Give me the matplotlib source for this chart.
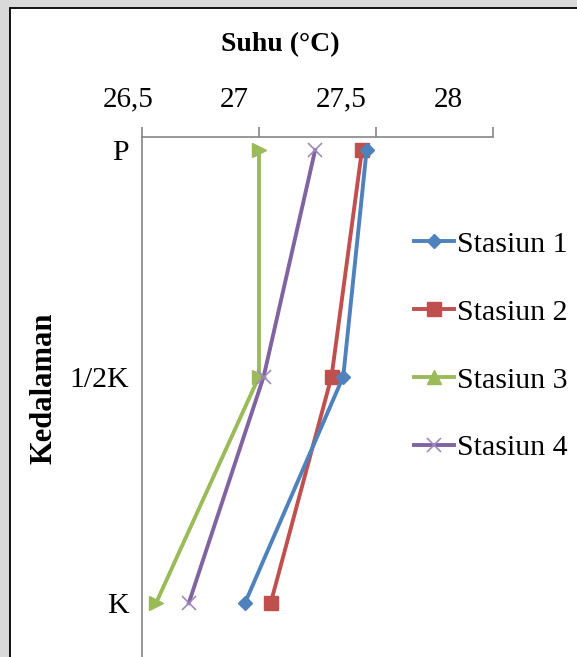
import matplotlib.pyplot as plt
from matplotlib.lines import Line2D
from matplotlib.patches import Rectangle
from matplotlib.ticker import FuncFormatter

plt.rcParams['font.family'] = ['Liberation Serif', 'DejaVu Serif']

depths = ['P', '1/2K', 'K']
stasiun_1 = [27.46, 27.36, 26.94]
stasiun_2 = [27.44, 27.31, 27.05]
stasiun_3 = [27.0, 27.0, 26.56]
stasiun_4 = [27.24, 27.02, 26.70]
labels = ['Stasiun 1', 'Stasiun 2', 'Stasiun 3', 'Stasiun 4']
x_ticks = [26.5, 27, 27.5, 28]

colors = ['#4F81BD', '#C0504D', '#9BBB59', '#8064A2']

fig = plt.figure(figsize=(5.77, 6.57), dpi=100)
fig.patch.set_facecolor('#d9d9d9')
# white page with black border
fig.patches.append(Rectangle((10 / 577, -0.01), 1.0, 1 - 8 / 657 + 0.01,
                             transform=fig.transFigure, facecolor='white',
                             edgecolor='black', linewidth=1.3, zorder=-5))

top = 1 - 137 / 657
ax = fig.add_axes([142 / 577, 0.0, (493 - 142) / 577, top])
ax.patch.set_alpha(0)

y = list(range(len(depths)))
ax.plot(stasiun_1, y, color=colors[0], lw=2.8, marker='D', ms=7, zorder=4)
ax.plot(stasiun_2, y, color=colors[1], lw=2.8, marker='s', ms=10, zorder=3)
ax.plot(stasiun_3, y, color=colors[2], lw=2.8, marker='>', ms=10, zorder=2)
ax.plot(stasiun_4, y, color=colors[3], lw=2.8, marker='x', ms=10,
        mec='#9E8ABF', mew=1.2, zorder=2)

ax.set_xticks(x_ticks)
ax.set_xlim(26.5, 28)
ax.set_ylim(2.238, -0.0574)
ax.xaxis.tick_top()
ax.tick_params(axis='x', length=7, width=1.2, color='#868686', labeltop=False)
ax.set_yticks(y)
ax.set_yticklabels(depths)

for s in ['right', 'bottom']:
    ax.spines[s].set_visible(False)
for s in ['top', 'left']:
    ax.spines[s].set_color('#868686')
    ax.spines[s].set_linewidth(1.2)
ax.tick_params(axis='y', length=0, pad=9.5, labelsize=21.5)

# tick labels in the original sit a bit squeezed to the left of the ticks
lab = fig.add_axes([128 / 577, 0.0, 320 / 577, top])
lab.patch.set_alpha(0)
lab.set_xticks(x_ticks)
lab.set_xlim(26.5, 28)
lab.set_yticks([])
lab.xaxis.tick_top()
lab.xaxis.set_major_formatter(FuncFormatter(lambda v, p: ('%g' % v).replace('.', ',')))
lab.tick_params(axis='x', length=0, pad=17.5, labelsize=21)
for s in lab.spines.values():
    s.set_visible(False)

fig.text(280 / 577, 1 - 45 / 657, 'Suhu (°C)', ha='center', va='center',
         fontsize=20, fontweight='bold')
fig.text(44 / 577, 1 - 388 / 657, 'Kedalaman', ha='center', va='center',
         rotation=90, fontsize=22, fontweight='bold')

handles = [
    Line2D([], [], color=colors[0], lw=2.8, marker='D', ms=7),
    Line2D([], [], color=colors[1], lw=2.8, marker='s', ms=10),
    Line2D([], [], color=colors[2], lw=2.8, marker='^', ms=10),
    Line2D([], [], color=colors[3], lw=2.8, marker='x', ms=10, mec='#9E8ABF', mew=1.2),
]
fig.legend(handles, labels, loc='upper left', bbox_to_anchor=(414 / 577, 1 - 231 / 657),
           frameon=False, fontsize=21.5, handlelength=1.35, handletextpad=0.1,
           labelspacing=1.37, borderpad=0, borderaxespad=0)

fig.savefig('out.png', dpi=100)
